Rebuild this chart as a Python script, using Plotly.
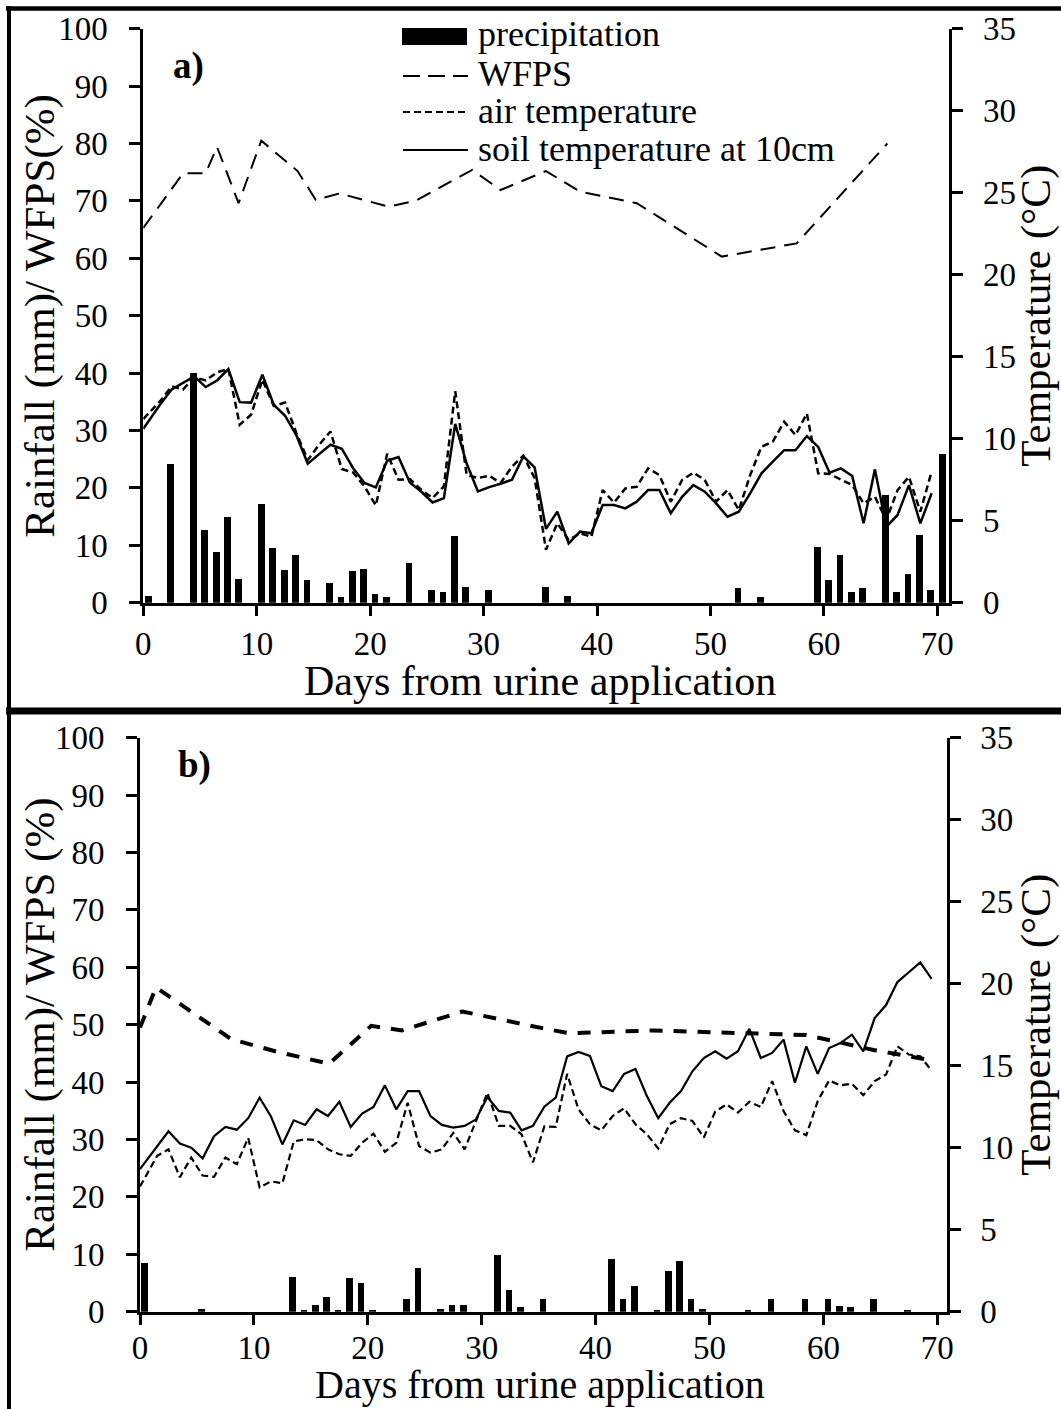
import plotly.graph_objects as go

W, H = 1061, 1409

# ---------------- data : panel a ----------------
rain_a_days = [0, 2, 4, 5, 6, 7, 8, 10, 11, 12, 13, 14, 16, 17, 18, 19, 20, 21, 23, 25, 26, 27, 28,
               30, 35, 37, 52, 54, 59, 60, 61, 62, 63, 65, 66, 67, 68, 69, 70]
rain_a = [1.3, 24.3, 40.1, 12.7, 8.9, 14.9, 4.2, 17.3, 9.5, 5.7, 8.4, 4.0, 3.5, 1.0, 5.5, 5.9, 1.5, 1.0,
          7.0, 2.2, 1.9, 11.7, 2.8, 2.3, 2.8, 1.2, 2.6, 1.0, 9.8, 4.0, 8.4, 1.9, 2.6, 18.9, 1.9, 5.1,
          11.8, 2.3, 25.9]

wfps_a_days = [0, 3.5, 5.5, 6.5, 8.4, 10.4, 13.6, 15.2, 17.3, 21.6, 24.0, 29.0, 31.5, 35.5, 38.5,
               43.5, 51.0, 57.6, 65.6]
wfps_a = [65.3, 74.8, 74.8, 79.4, 69.6, 80.5, 75.2, 70.2, 71.3, 69.0, 70.0, 75.4, 71.9, 75.2, 71.6,
          69.6, 60.3, 62.6, 80.0]

day_index = list(range(70))
air_a = [11.2, 12.3, 13.2, 13.0, 13.75, 13.55, 14.05, 14.25, 10.85, 11.46, 13.6, 12.0, 12.2, 10.34,
         8.7, 9.63, 10.44, 8.15, 7.94, 7.09, 5.93, 9.08, 7.5, 7.54, 6.89, 6.38, 7.09, 12.9, 7.8, 7.6,
         7.74, 7.3, 8.3, 8.96, 7.6, 3.23, 4.84, 3.82, 4.23, 4.02, 6.87, 6.1, 6.97, 7.07, 8.19, 7.78,
         6.16, 7.48, 7.93, 7.48, 6.16, 6.87, 5.65, 7.78, 9.51, 9.82, 11.04, 10.22, 11.54, 7.89, 7.85,
         7.52, 7.17, 6.06, 6.46, 5.04, 6.87, 7.68, 5.55, 7.99]
soil_a = [10.6, 12.1, 13.0, 13.4, 13.8, 13.15, 13.55, 14.25, 12.23, 12.2, 13.9, 12.07, 11.4, 10.2,
          8.47, 9.06, 9.63, 9.39, 8.2, 7.3, 7.03, 8.65, 8.88, 7.33, 6.78, 6.11, 6.38, 10.9, 8.5, 6.78,
          7.05, 7.25, 7.5, 8.92, 8.25, 4.5, 5.55, 3.62, 4.33, 4.23, 5.96, 5.96, 5.75, 6.16, 6.87, 6.87,
          5.45, 6.46, 7.17, 6.77, 6.06, 5.24, 5.55, 6.67, 7.89, 8.6, 9.3, 9.3, 10.16, 9.5, 7.93, 8.19,
          7.72, 4.84, 8.13, 4.63, 5.35, 7.17, 4.84, 6.67]

# ---------------- data : panel b ----------------
rain_b_days = [0, 5, 13, 14, 15, 16, 17, 18, 19, 20, 23, 24, 26, 27, 28, 31, 32, 33, 35, 41, 42, 43,
               45, 46, 47, 48, 49, 53, 55, 58, 60, 61, 62, 64, 67]
rain_b = [8.6, 0.5, 6.1, 0.3, 1.3, 2.6, 0.3, 5.9, 5.1, 0.3, 2.2, 7.7, 0.5, 1.3, 1.3, 9.9, 3.9, 0.9,
          2.3, 9.3, 2.2, 4.5, 0.3, 7.1, 8.8, 2.2, 0.5, 0.3, 2.3, 2.2, 2.3, 1.1, 0.8, 2.2, 0.3]

wfps_b_days = [0, 1.4, 8.0, 12.0, 16.6, 20.3, 23.0, 28.3, 35.3, 37.7, 45.0, 55.6, 58.5, 64.4, 69.5]
wfps_b = [49.5, 56.5, 47.5, 45.3, 43.2, 49.8, 49.0, 52.3, 49.4, 48.5, 49.0, 48.5, 48.2, 45.6, 43.8]

air_b = [7.63, 9.5, 9.9, 8.2, 9.4, 8.3, 8.23, 9.4, 9.0, 10.6, 7.58, 7.95, 7.83, 10.38, 10.52, 10.46,
         9.9, 9.6, 9.5, 10.3, 10.86, 9.75, 10.3, 12.74, 10.1, 9.7, 9.9, 10.9, 9.9, 11.63, 13.35,
         11.33, 11.33, 10.82, 9.1, 11.3, 11.27, 14.5, 12.34, 11.43, 11.06, 11.93, 12.4, 11.43, 10.82,
         9.95, 11.43, 11.8, 11.63, 10.62, 12.2, 12.64, 12.14, 12.8, 12.48, 14.06, 12.24, 11.06, 10.76,
         12.84, 14.1, 13.8, 13.9, 13.2, 14.06, 14.46, 16.18, 15.68, 15.57, 14.7]
soil_b = [8.7, 10.1, 11.0, 10.25, 10.0, 9.35, 10.7, 11.27, 11.1, 11.8, 13.05, 11.9, 10.2, 11.67, 11.39,
          12.34, 11.93, 12.8, 11.27, 12.08, 12.48, 13.8, 12.34, 13.45, 13.45, 11.93, 11.39, 11.23,
          11.33, 11.73, 13.09, 12.24, 12.14, 11.06, 11.33, 12.5, 13.05, 15.57, 15.84, 15.6, 13.75,
          13.45, 14.5, 14.8, 13.15, 11.8, 12.74, 13.45, 14.66, 15.47, 15.88, 15.43, 15.88, 17.25,
          15.47, 15.78, 16.59, 13.96, 16.18, 14.5, 16.08, 16.38, 16.89, 15.88, 17.9, 18.7, 20.1, 20.7,
          21.3, 20.3]

x_ticks = [0, 10, 20, 30, 40, 50, 60, 70]
left_ticks = [0, 10, 20, 30, 40, 50, 60, 70, 80, 90, 100]
right_ticks = [0, 5, 10, 15, 20, 25, 30, 35]

# ---------------- geometry (pixels) ----------------
FONT = "Liberation Serif"
BLACK = "#000000"


def fx(px):
    return px / W


def fy(py):
    return 1 - py / H


A_X0, A_PPD, A_XR = 143.3, 11.343, 949.3
A_YT, A_YB = 28.7, 602.7
B_X0, B_PPD, B_XR = 140.0, 11.39, 946.7
B_YT, B_YB = 737.7, 1311.7

temp_x = [d + 0.5 if d else 0 for d in day_index]

fig = go.Figure()

# panel a
fig.add_trace(go.Bar(x=rain_a_days, y=rain_a, xaxis="x", yaxis="y", marker_color=BLACK,
                     marker_line_width=0, width=0.6, offset=0.15, name="precipitation"))
fig.add_trace(go.Scatter(x=wfps_a_days, y=wfps_a, xaxis="x", yaxis="y", mode="lines",
                         line=dict(color=BLACK, width=2, dash="15px,9px"), name="WFPS"))
fig.add_trace(go.Scatter(x=temp_x, y=air_a, xaxis="x", yaxis="y2", mode="lines",
                         line=dict(color=BLACK, width=2.5, dash="7px,4px"), name="air temperature"))
fig.add_trace(go.Scatter(x=temp_x, y=soil_a, xaxis="x", yaxis="y2", mode="lines",
                         line=dict(color=BLACK, width=2.5), name="soil temperature at 10cm"))

# panel b
fig.add_trace(go.Bar(x=rain_b_days, y=rain_b, xaxis="x2", yaxis="y3", marker_color=BLACK,
                     marker_line_width=0, width=0.58, offset=0.1, name="precipitation"))
fig.add_trace(go.Scatter(x=wfps_b_days, y=wfps_b, xaxis="x2", yaxis="y3", mode="lines",
                         line=dict(color=BLACK, width=4, dash="13px,11px"), name="WFPS"))
fig.add_trace(go.Scatter(x=temp_x, y=air_b, xaxis="x2", yaxis="y4", mode="lines",
                         line=dict(color=BLACK, width=2.2, dash="7px,4px"), name="air temperature"))
fig.add_trace(go.Scatter(x=temp_x, y=soil_b, xaxis="x2", yaxis="y4", mode="lines",
                         line=dict(color=BLACK, width=2.2), name="soil temperature at 10cm"))

common = dict(showline=True, linecolor=BLACK, linewidth=3, ticks="outside", tickwidth=3,
              tickcolor=BLACK, showgrid=False, zeroline=False, automargin=False,
              tickfont=dict(family=FONT, size=33, color=BLACK))

fig.update_layout(
    template="none",
    width=W, height=H, margin=dict(l=0, r=0, t=0, b=0, pad=0, autoexpand=False),
    autosize=False,
    paper_bgcolor="white", plot_bgcolor="white", showlegend=False, bargap=0,
    font=dict(family=FONT, color=BLACK),
    xaxis=dict(domain=[fx(A_X0), fx(A_XR)], range=[0, (A_XR - A_X0) / A_PPD], anchor="y",
               tickvals=x_ticks, ticklen=10, ticklabelstandoff=0, **common),
    yaxis=dict(domain=[fy(A_YB), fy(A_YT)], range=[0, 100], anchor="x", tickvals=left_ticks,
               ticklen=11, ticklabelstandoff=15, **common),
    yaxis2=dict(domain=[fy(A_YB), fy(A_YT)], range=[0, 35], anchor="x", overlaying="y",
                side="right", tickvals=right_ticks, ticklen=11, ticklabelstandoff=13, **common),
    xaxis2=dict(domain=[fx(B_X0), fx(B_XR)], range=[0, (B_XR - B_X0) / B_PPD], anchor="y3",
                tickvals=x_ticks, ticklen=10, ticklabelstandoff=-5, **common),
    yaxis3=dict(domain=[fy(B_YB), fy(B_YT)], range=[0, 100], anchor="x2", tickvals=left_ticks,
                ticklen=11, ticklabelstandoff=15, **common),
    yaxis4=dict(domain=[fy(B_YB), fy(B_YT)], range=[0, 35], anchor="x2", overlaying="y3",
                side="right", tickvals=right_ticks, ticklen=11, ticklabelstandoff=13, **common),
)

ann = []


def text(px, py, s, size, angle=0, xanchor="center", bold=False):
    ann.append(dict(x=fx(px), y=fy(py), xref="paper", yref="paper", text=f"<b>{s}</b>" if bold else s,
                    showarrow=False, textangle=angle, xanchor=xanchor, yanchor="middle",
                    font=dict(family=FONT, size=size, color=BLACK)))


# axis titles
text(540, 681, "Days from urine application", 42)
text(540, 1384, "Days from urine application", 40)
text(40, (A_YT + A_YB) / 2, "Rainfall (mm)/ WFPS(%)", 43, angle=-90)
text(40, (B_YT + B_YB) / 2, "Rainfall (mm)/ WFPS (%)", 43, angle=-90)
text(1036, (A_YT + A_YB) / 2, "Temperature (°C)", 43, angle=-90)
text(1036, (B_YT + B_YB) / 2, "Temperature (°C)", 43, angle=-90)
# panel labels
text(188, 66, "a)", 37, bold=True)
text(194, 765, "b)", 37, bold=True)
# legend labels
leg_labels = ["precipitation", "WFPS", "air temperature", "soil temperature at 10cm"]
leg_rows = [34, 74, 111, 149]
for lab, ry in zip(leg_labels, leg_rows):
    text(476, ry, lab, 36, xanchor="left")

shapes = []


def line(x0, y0, x1, y1, width, dash="solid"):
    shapes.append(dict(type="line", xref="paper", yref="paper", x0=fx(x0), y0=fy(y0), x1=fx(x1),
                       y1=fy(y1), line=dict(color=BLACK, width=width, dash=dash)))


# legend symbols
shapes.append(dict(type="rect", xref="paper", yref="paper", x0=fx(402), x1=fx(467), y0=fy(45),
                   y1=fy(28), fillcolor=BLACK, line=dict(width=0)))
line(403, 76, 468, 76, 2, "17px,8px")
line(403, 112, 468, 112, 2, "7px,4px")
line(403, 150, 468, 150, 2)

# panel borders
line(6, 8.5, W, 8.5, 4.5)
line(9, 6, 9, H, 4)
line(6, 711, W, 711, 7)

fig.update_layout(annotations=ann, shapes=shapes)

fig.write_html("out.html", config={"displayModeBar": False},
               post_script="document.body.style.margin='0';")
